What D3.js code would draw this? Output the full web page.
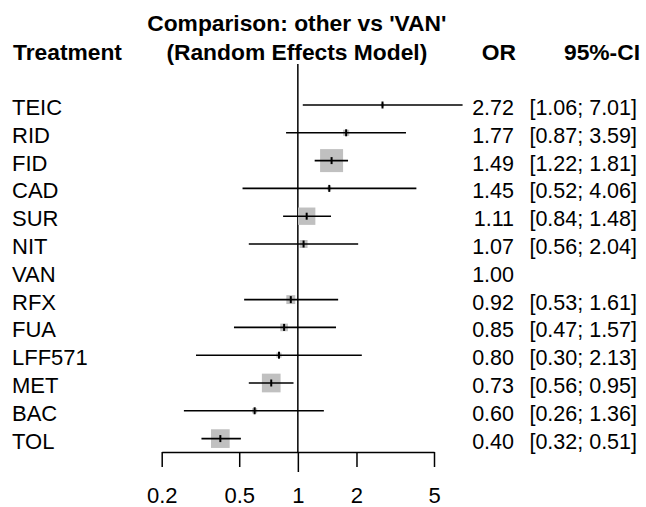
<!DOCTYPE html>
<html>
<head>
<meta charset="utf-8">
<script src="https://cdn.jsdelivr.net/npm/d3@7"></script>
<style>
  body { margin: 0; background: #fff; }
  svg { display: block; font-family: Arial, "Liberation Sans", sans-serif; }
  .lbl { font-size: 22px; }
  .num { font-size: 21.5px; }
  .hdr { font-size: 22.8px; font-weight: bold; }
  .tick text { font-size: 22px; font-family: Arial, "Liberation Sans", sans-serif; }
</style>
</head>
<body>
<svg width="646" height="507"></svg>
<script>
// data
const treatments = ['TEIC', 'RID', 'FID', 'CAD', 'SUR', 'NIT', 'VAN', 'RFX', 'FUA', 'LFF571', 'MET', 'BAC', 'TOL']
const oddsRatio = [2.72, 1.77, 1.49, 1.45, 1.11, 1.07, 1.00, 0.92, 0.85, 0.80, 0.73, 0.60, 0.40]
const lower = [1.06, 0.87, 1.22, 0.52, 0.84, 0.56, null, 0.53, 0.47, 0.30, 0.56, 0.26, 0.32]
const upper = [7.01, 3.59, 1.81, 4.06, 1.48, 2.04, null, 1.61, 1.57, 2.13, 0.95, 1.36, 0.51]
// relative weights
const weights = [2, 7, 100, 3, 57, 12, 0, 15, 11, 5, 66, 5, 66]
const tickValues = [0.2, 0.5, 1, 2, 5]

const rows = treatments.map((t, i) => ({
  name: t,
  or: oddsRatio[i],
  lo: lower[i],
  hi: upper[i],
  w: weights[i]
}))

// dimensions
const axisY = 452
const refTop = 64
const labelX = 12
const orRight = 514
const ciRight = 637

const $svg = d3.select('svg')

const scaleX = d3.scaleLog()
  .domain([0.2, 5])
  .range([161.7, 434])

const scaleY = d3.scalePoint()
  .domain(treatments)
  .range([105, 438.6])

const scaleBox = d3.scaleSqrt()
  .domain([0, d3.max(weights)])
  .range([0, 23])

const fmt = d3.format('.2f')

// headers
const $hdr = $svg.append('g')
$hdr.append('text').attr('class', 'hdr')
  .attr('x', 13).attr('y', 60.3).text('Treatment')
$hdr.append('text').attr('class', 'hdr')
  .attr('x', scaleX(1) - 1).attr('y', 31.3).attr('text-anchor', 'middle')
  .text("Comparison: other vs 'VAN'")
$hdr.append('text').attr('class', 'hdr')
  .attr('x', scaleX(1) - 1).attr('y', 60.3).attr('text-anchor', 'middle')
  .text('(Random Effects Model)')
$hdr.append('text').attr('class', 'hdr')
  .attr('x', 516).attr('y', 60.3).attr('text-anchor', 'end').text('OR')
$hdr.append('text').attr('class', 'hdr')
  .attr('x', 640).attr('y', 60.3).attr('text-anchor', 'end').text('95%-CI')

// reference line
$svg.append('line')
  .attr('x1', scaleX(1)).attr('x2', scaleX(1))
  .attr('y1', refTop).attr('y2', axisY)
  .attr('stroke', '#000').attr('stroke-width', 1.5)

// axis
const $axis = $svg.append('g')
  .attr('transform', `translate(0, ${axisY})`)
  .call(d3.axisBottom(scaleX)
    .tickValues(tickValues)
    .tickFormat(d => d)
    .tickSize(15)
    .tickSizeOuter(0)
    .tickPadding(20))

$axis.select('.domain').attr('stroke-width', 1.5)
$axis.selectAll('.tick line').attr('stroke-width', 1.5)
  .attr('y2', d => d === 1 ? 20 : 15)
$axis.selectAll('.tick text').attr('fill', '#000')

// rows
const rowGroup = $svg.selectAll('.row')
  .data(rows)
  .enter()
  .append('g')
  .attr('class', 'row')
  .attr('transform', d => `translate(0, ${scaleY(d.name)})`)

rowGroup.filter(d => d.w > 0)
  .append('rect')
  .attr('x', d => scaleX(d.or) - scaleBox(d.w) / 2)
  .attr('y', d => -scaleBox(d.w) / 2)
  .attr('width', d => scaleBox(d.w))
  .attr('height', d => scaleBox(d.w))
  .attr('fill', '#c0c0c0')

rowGroup.filter(d => d.lo != null)
  .append('line')
  .attr('x1', d => scaleX(d.lo))
  .attr('x2', d => scaleX(d.hi))
  .attr('y1', 0).attr('y2', 0)
  .attr('stroke', '#000').attr('stroke-width', 1.6)

rowGroup.filter(d => d.lo != null)
  .append('line')
  .attr('x1', d => scaleX(d.or))
  .attr('x2', d => scaleX(d.or))
  .attr('y1', -3.5).attr('y2', 3.5)
  .attr('stroke', '#000').attr('stroke-width', 2)

rowGroup.append('text')
  .attr('class', 'lbl')
  .attr('x', labelX).attr('y', 10)
  .text(d => d.name)

rowGroup.append('text')
  .attr('class', 'num')
  .attr('x', orRight).attr('y', 10)
  .attr('text-anchor', 'end')
  .text(d => fmt(d.or))

rowGroup.filter(d => d.lo != null)
  .append('text')
  .attr('class', 'num')
  .attr('x', ciRight).attr('y', 10)
  .attr('text-anchor', 'end')
  .text(d => `[${fmt(d.lo)}; ${fmt(d.hi)}]`)
</script>
</body>
</html>
